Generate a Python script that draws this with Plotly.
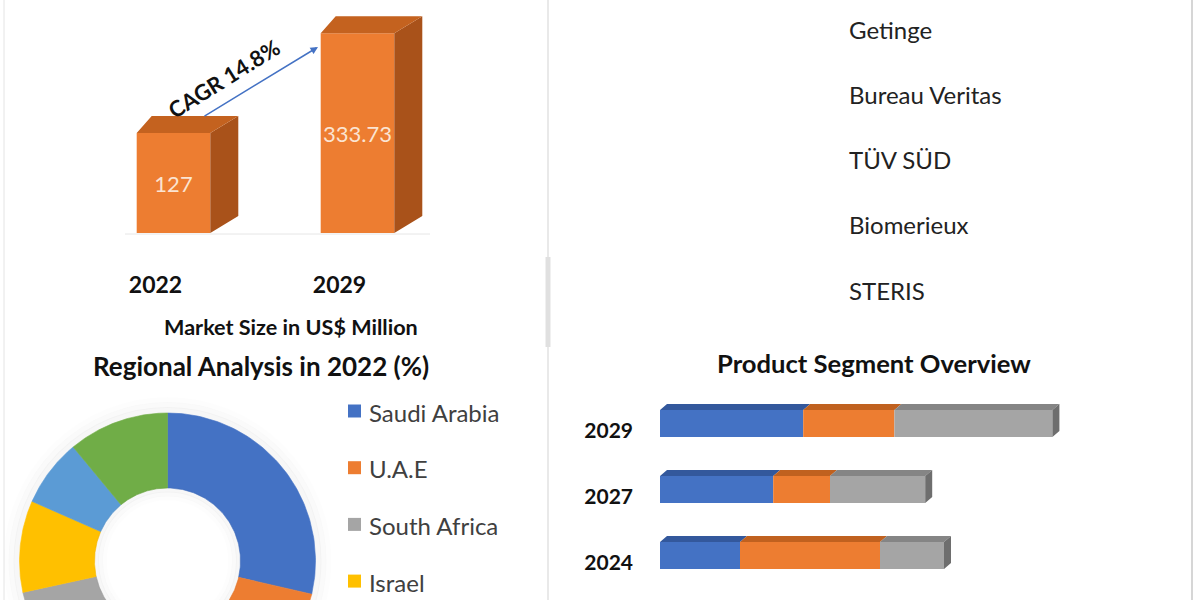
import numpy as np
import plotly.graph_objects as go

# ---------------- data ----------------
market_years = ["2022", "2029"]
market_values = [127, 333.73]
market_unit = "Market Size in US$ Million"
cagr_label = "CAGR 14.8%"

regions = ["Saudi Arabia", "U.A.E", "South Africa", "Israel", "Turkey", "Rest of MEA"]
region_share = [28.6, 22.0, 21.0, 10.0, 7.4, 11.0]
region_title = "Regional Analysis in 2022 (%)"

companies = ["Getinge", "Bureau Veritas", "TÜV SÜD", "Biomerieux", "STERIS"]

segment_years = ["2024", "2027", "2029"]
segment_names = ["Kits & Reagents", "Instruments", "Services"]
seg_a = [20.0, 28.3, 35.8]
seg_b = [35.0, 14.2, 22.8]
seg_c = [16.0, 23.8, 39.5]
segment_title = "Product Segment Overview"

# ---------------- styling ----------------
W, H = 1200, 600
FONT = "Lato"
BLUE, ORANGE, GRAY, GOLD, LBLUE, GREEN = "#4472C4", "#ED7D31", "#A5A5A5", "#FFC000", "#5B9BD5", "#70AD47"
region_colors = [BLUE, ORANGE, GRAY, GOLD, LBLUE, GREEN]
seg_colors = [BLUE, ORANGE, GRAY]
seg_top_colors = ["#33589C", "#C0611F", "#858585"]


def px(x):
    return x / W


def py(y):
    return 1 - y / H


def label(x, y, text, size, color="#111", xanchor="center", angle=0):
    return dict(x=px(x), y=py(y), xref="paper", yref="paper", xanchor=xanchor, yanchor="middle",
                showarrow=False, text=text, textangle=angle,
                font=dict(family=FONT, size=size, color=color))


fig = go.Figure()

# ---------------- market size 3D bars (top-left) ----------------
FLOOR = -80
L_DOM_X = (81.5, 449.5)
L_RANGE_X = (-0.5, 1.5)
L_DOM_Y = (0, 233)
L_RANGE_Y = (FLOOR, 402.3)
ux = (L_DOM_X[1] - L_DOM_X[0]) / (L_RANGE_X[1] - L_RANGE_X[0])  # px per x unit
uy = (L_DOM_Y[1] - L_DOM_Y[0]) / (L_RANGE_Y[1] - L_RANGE_Y[0])  # px per y unit
bar_w = 0.4
bx = list(range(len(market_years)))
dxl, dxr, dyu = 15 / ux, 28 / ux, 17 / uy

top_x, top_y, side_x, side_y = [], [], [], []
for xi, v in zip(bx, market_values):
    x0, x1 = xi - bar_w / 2, xi + bar_w / 2
    top_x += [x0, x1, x1 + dxr, x0 + dxl, x0, None]
    top_y += [v, v, v + dyu, v + dyu, v, None]
    side_x += [x1, x1 + dxr, x1 + dxr, x1, x1, None]
    side_y += [FLOOR, FLOOR + dyu, v + dyu, v, FLOOR, None]

fig.add_trace(go.Scatter(x=side_x, y=side_y, fill="toself", mode="lines",
                         line=dict(width=0, color="#A9521A"), fillcolor="#A9521A",
                         xaxis="x", yaxis="y", hoverinfo="skip", showlegend=False))
fig.add_trace(go.Scatter(x=top_x, y=top_y, fill="toself", mode="lines",
                         line=dict(width=0, color="#C4621F"), fillcolor="#C4621F",
                         xaxis="x", yaxis="y", hoverinfo="skip", showlegend=False))
bar_font = dict(family=FONT, size=22, color="#FBE4D2")
fig.add_trace(go.Bar(x=bx, y=[v - FLOOR for v in market_values], base=FLOOR, width=bar_w,
                     marker=dict(color=ORANGE, line=dict(width=0)),
                     text=[f"{v:g}" for v in market_values], textposition="inside",
                     insidetextanchor="middle", constraintext="none", textangle=0,
                     textfont=bar_font, insidetextfont=bar_font,
                     xaxis="x", yaxis="y", showlegend=False, hoverinfo="skip"))

# ---------------- regional donut (bottom-left) ----------------
D_DOM_X = (0, 340)
D_DOM_Y = (395, 600)
CX, CY = 167.5, 561
R_OUT, R_IN = 148, 73
cum = np.concatenate([[0], np.cumsum(region_share)]) / np.sum(region_share) * 360
for i, (name, col) in enumerate(zip(regions, region_colors)):
    th = np.radians(np.linspace(cum[i], cum[i + 1], 80))
    xs = np.concatenate([R_OUT * np.sin(th), R_IN * np.sin(th[::-1])])
    ys = np.concatenate([R_OUT * np.cos(th), R_IN * np.cos(th[::-1])])
    fig.add_trace(go.Scatter(x=np.append(xs, xs[0]), y=np.append(ys, ys[0]), fill="toself",
                             mode="lines", line=dict(width=0.6, color=col), fillcolor=col,
                             name=name, xaxis="x2", yaxis="y2", showlegend=False,
                             hovertemplate=f"{name}: {region_share[i]}%<extra></extra>"))

# ---------------- product segment stacked 3D bars (bottom-right) ----------------
R_DOM_X = (660, 1150)
R_RANGE_X = (0, 122.5)
R_DOM_Y = (390.5, 588.5)
R_RANGE_Y = (-0.5, 2.5)
rux = (R_DOM_X[1] - R_DOM_X[0]) / (R_RANGE_X[1] - R_RANGE_X[0])
ruy = (R_DOM_Y[1] - R_DOM_Y[0]) / (R_RANGE_Y[1] - R_RANGE_Y[0])
hb_w = 27 / ruy
ry = list(range(len(segment_years)))
r_dx, r_dy = 7 / rux, 6 / ruy

segs = [seg_a, seg_b, seg_c]
bases = [np.zeros(len(ry))]
for s in segs[:-1]:
    bases.append(bases[-1] + np.array(s))
totals = bases[-1] + np.array(segs[-1])

for s_vals, b_vals, col, tcol, name in zip(segs, bases, seg_colors, seg_top_colors, segment_names):
    tx, ty = [], []
    for yi, v, b in zip(ry, s_vals, b_vals):
        yt = yi + hb_w / 2
        tx += [b, b + v, b + v + r_dx, b + r_dx, b, None]
        ty += [yt, yt, yt + r_dy, yt + r_dy, yt, None]
    fig.add_trace(go.Scatter(x=tx, y=ty, fill="toself", mode="lines",
                             line=dict(width=0, color=tcol), fillcolor=tcol,
                             xaxis="x3", yaxis="y3", hoverinfo="skip", showlegend=False))
    fig.add_trace(go.Bar(y=ry, x=s_vals, base=b_vals, orientation="h", width=hb_w,
                         marker=dict(color=col, line=dict(width=0)), name=name,
                         xaxis="x3", yaxis="y3", showlegend=False))

sx, sy = [], []
for yi, t in zip(ry, totals):
    y0, y1 = yi - hb_w / 2, yi + hb_w / 2
    sx += [t, t + r_dx, t + r_dx, t, t, None]
    sy += [y0, y0 + r_dy, y1 + r_dy, y1, y0, None]
fig.add_trace(go.Scatter(x=sx, y=sy, fill="toself", mode="lines",
                         line=dict(width=0, color="#6E6E6E"), fillcolor="#6E6E6E",
                         xaxis="x3", yaxis="y3", hoverinfo="skip", showlegend=False))

# ---------------- annotations ----------------
ann = []
# CAGR arrow + label
ann.append(dict(x=px(318), y=py(47), xref="paper", yref="paper", ax=-115, ay=70,
                text="", showarrow=True, arrowhead=2, arrowsize=1, arrowwidth=1.5,
                arrowcolor=BLUE))
ann.append(label(224, 79, f"<b>{cagr_label}</b>", 22, angle=-32))
ann.append(label(291, 327, f"<b>{market_unit}</b>", 21.6))
ann.append(label(260.5, 366, f"<b>{region_title}</b>", 26))
ann.append(label(873.5, 363, f"<b>{segment_title}</b>", 25.6))
for i, c in enumerate(companies):
    ann.append(label(847, 29 + i * 65.3, c, 24, color="#222", xanchor="left"))

shapes = []
# donut legend (only entries that fall inside the visible canvas)
for i, (name, col) in enumerate(zip(regions, region_colors)):
    yc = 411 + i * 56.7
    if yc > H - 8:
        continue
    shapes.append(dict(type="rect", xref="paper", yref="paper", x0=px(348), x1=px(361),
                       y0=py(yc + 6.5), y1=py(yc - 6.5), fillcolor=col, line=dict(width=0)))
    ann.append(label(367, yc + 1, name, 24, color="#404040", xanchor="left"))

# donut soft glow
for dr, a in [(3, 0.03), (8, 0.018), (13, 0.009)]:
    shapes.append(dict(type="circle", xref="x2", yref="y2", x0=-R_OUT - dr, x1=R_OUT + dr,
                       y0=-R_OUT - dr, y1=R_OUT + dr, line=dict(width=6, color=f"rgba(0,0,0,{a})"),
                       layer="below"))
for dr, a in [(2, 0.03), (6, 0.018), (10, 0.008)]:
    shapes.append(dict(type="circle", xref="x2", yref="y2", x0=-R_IN + dr, x1=R_IN - dr,
                       y0=-R_IN + dr, y1=R_IN - dr, line=dict(width=5, color=f"rgba(0,0,0,{a})"),
                       layer="above"))

# panel borders / divider
shapes.append(dict(type="line", xref="paper", yref="paper", x0=px(4), x1=px(4), y0=0, y1=1,
                   line=dict(width=1, color="#E4E4E4")))
shapes.append(dict(type="line", xref="paper", yref="paper", x0=px(1192), x1=px(1192), y0=0, y1=1,
                   line=dict(width=2, color="#D6D6D6")))
shapes.append(dict(type="line", xref="paper", yref="paper", x0=px(548), x1=px(548), y0=0, y1=1,
                   line=dict(width=1.5, color="#E2E2E2")))
shapes.append(dict(type="line", xref="paper", yref="paper", x0=px(548), x1=px(548), y0=py(347), y1=py(257),
                   line=dict(width=5, color="#E0E0E0")))
# floor of the 3D market chart
shapes.append(dict(type="line", xref="paper", yref="paper", x0=px(125), x1=px(430), y0=py(234), y1=py(234),
                   line=dict(width=1, color="#E6E6E6")))

hidden = dict(visible=True, showgrid=False, zeroline=False, showline=False, ticks="",
              showticklabels=False, fixedrange=True)

fig.update_layout(
    width=W, height=H, margin=dict(l=0, r=0, t=0, b=0),
    paper_bgcolor="white", plot_bgcolor="rgba(0,0,0,0)",
    barmode="overlay", showlegend=False,
    font=dict(family=FONT),
    xaxis=dict(hidden, domain=[px(L_DOM_X[0]), px(L_DOM_X[1])], range=list(L_RANGE_X),
               showticklabels=True, tickvals=bx, ticktext=[f"<b>{y}</b>" for y in market_years],
               tickfont=dict(family=FONT, size=23, color="#111"),
               ticklabelstandoff=36, ticklabelshift=-18, anchor="y"),
    yaxis=dict(hidden, domain=[py(L_DOM_Y[1]), py(L_DOM_Y[0])], range=list(L_RANGE_Y), anchor="x"),
    xaxis2=dict(hidden, domain=[px(D_DOM_X[0]), px(D_DOM_X[1])],
                range=[D_DOM_X[0] - CX, D_DOM_X[1] - CX], anchor="y2"),
    yaxis2=dict(hidden, domain=[py(D_DOM_Y[1]), py(D_DOM_Y[0])],
                range=[CY - D_DOM_Y[1], CY - D_DOM_Y[0]], anchor="x2"),
    xaxis3=dict(hidden, domain=[px(R_DOM_X[0]), px(R_DOM_X[1])], range=list(R_RANGE_X), anchor="y3"),
    yaxis3=dict(hidden, domain=[py(R_DOM_Y[1]), py(R_DOM_Y[0])], range=list(R_RANGE_Y),
                showticklabels=True, tickvals=ry, ticktext=[f"<b>{y}</b>" for y in segment_years],
                tickfont=dict(family=FONT, size=21, color="#111"),
                ticklabelstandoff=26, ticklabelshift=7, anchor="x3"),
    annotations=ann, shapes=shapes,
)

fig.write_html("out.html", config={"displayModeBar": False},
               post_script="document.body.style.margin='0';document.body.style.overflow='hidden';")
